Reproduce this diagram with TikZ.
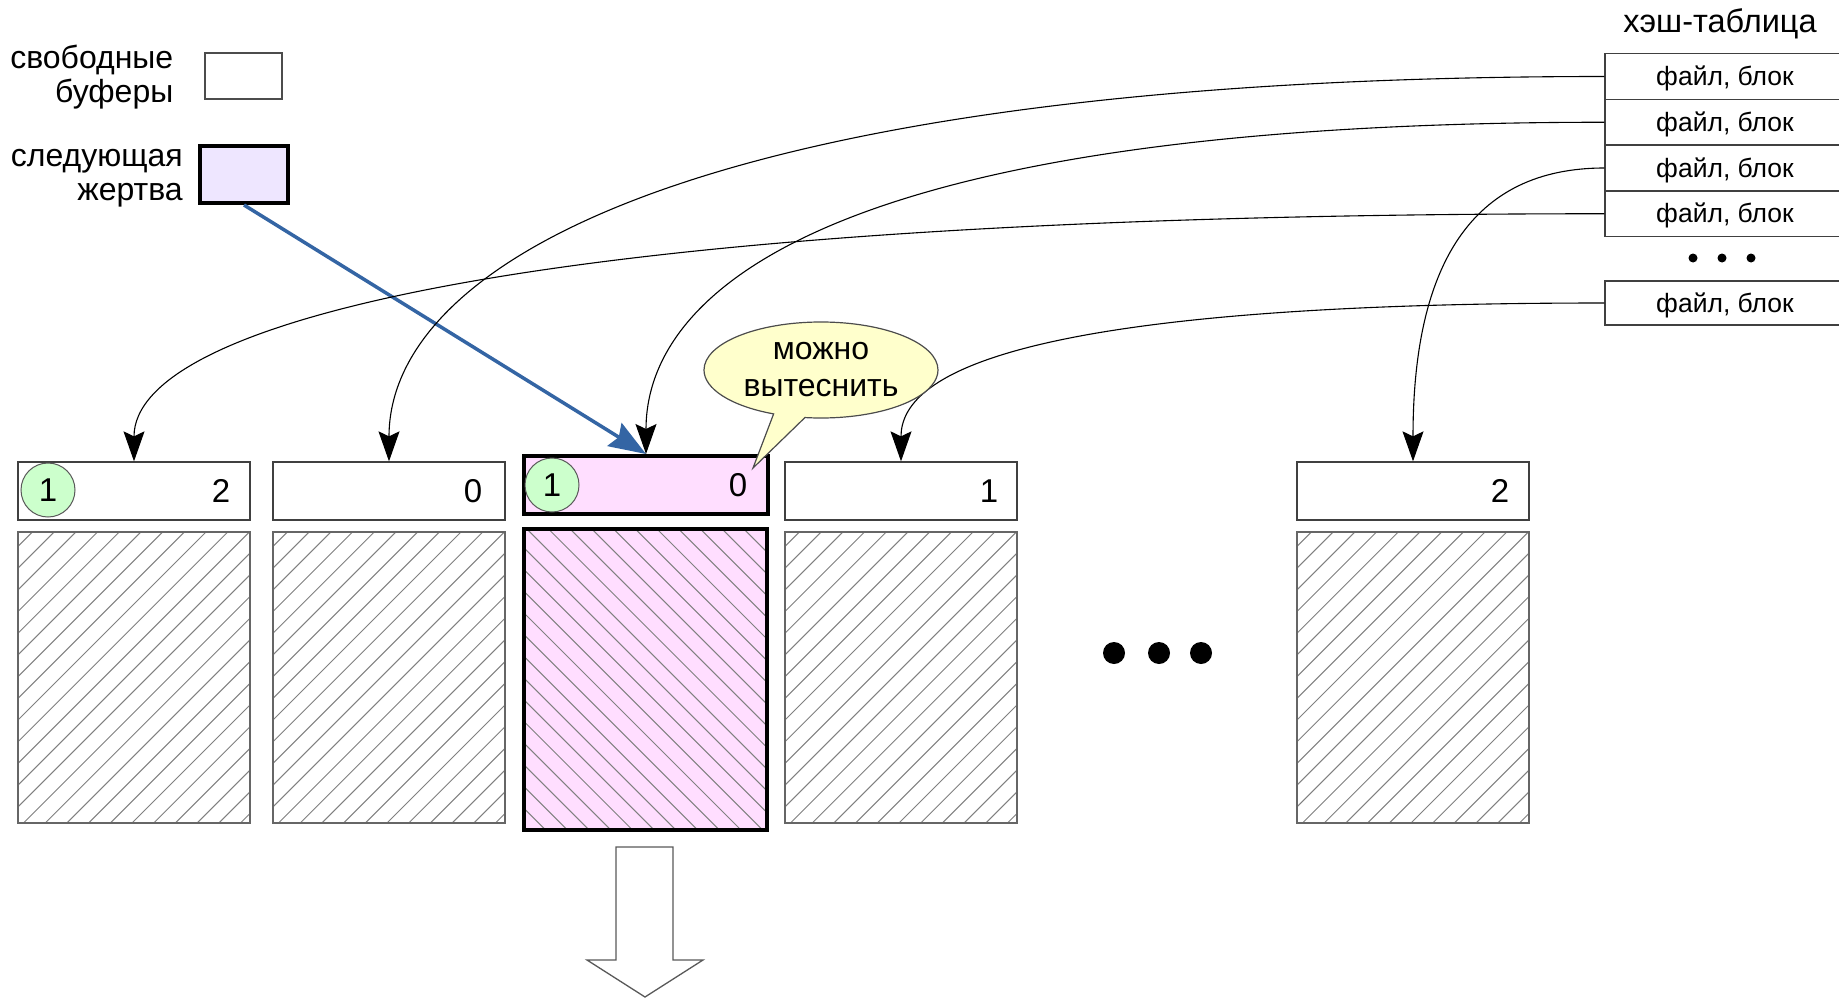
\documentclass[tikz,border=0pt]{standalone}
\usepackage{fontspec}
\setmainfont{Liberation Sans}
\usetikzlibrary{arrows.meta,shapes.callouts,shapes.geometric}
\definecolor{victim}{HTML}{FFDEFF}
\definecolor{lav}{HTML}{EEE6FF}
\definecolor{cntgreen}{HTML}{CCFFCC}
\definecolor{bub}{HTML}{FFFFCC}
\definecolor{arrblue}{HTML}{3465A4}
\begin{document}
\begin{tikzpicture}[x=1pt,y=-1pt,
  hdr/.style={rectangle, draw=black!75, line width=1.3pt, fill=white, minimum width=232pt, minimum height=58pt, inner sep=0pt},
  hdrv/.style={rectangle, draw=black, line width=4pt, fill=victim, minimum width=244pt, minimum height=58pt, inner sep=0pt},
  hatchne/.style={path picture={\foreach \k in {-320,-298.3,...,260}{\draw[line width=1pt, black!50] ([xshift=\k pt]path picture bounding box.south west) -- ++(340pt,340pt);}}},
  hatchnw/.style={path picture={\foreach \k in {0,21.7,...,600}{\draw[line width=1pt, black!50] ([xshift=\k pt]path picture bounding box.south west) -- ++(-340pt,340pt);}}},
  body/.style={rectangle, draw=black!60, line width=1.3pt, fill=white, minimum width=232pt, minimum height=291pt, inner sep=0pt, hatchne},
  bodyv/.style={rectangle, draw=black, line width=4pt, fill=victim, minimum width=243pt, minimum height=301pt, inner sep=0pt, hatchnw},
  num/.style={font=\fontsize{33}{33}\selectfont, inner sep=0pt},
  cnt/.style={circle, draw=black!65, line width=1pt, fill=cntgreen, minimum size=54pt, inner sep=0pt, font=\fontsize{33}{33}\selectfont},
  lbl/.style={font=\fontsize{32}{33}\selectfont, inner sep=0pt},
  cell/.style={rectangle, draw=black!75, line width=1.3pt, fill=white, minimum width=240pt, minimum height=45.75pt, inner sep=0pt, text height=23pt, text depth=5pt, font=\fontsize{26.5}{26.5}\selectfont},
  conn/.style={line width=1.1pt, -{Stealth[length=30pt,width=21pt,inset=5pt]}},
  bluearr/.style={draw=arrblue, line width=3.5pt, -{Stealth[length=37pt,width=27pt,inset=5pt]}},
  bigdot/.style={circle, fill=black, minimum size=22pt, inner sep=0pt},
  smalldot/.style={circle, fill=black, minimum size=9pt, inner sep=0pt}
]
\useasboundingbox (0,0) rectangle (1839,998);

% legend
\node[lbl, anchor=base east] (l1a) at (173.5,68.5) {свободные};
\node[lbl, anchor=base east] (l1b) at (173.5,102.5) {буферы};
\node[lbl, anchor=base east] (l2a) at (183,166.5) {следующая};
\node[lbl, anchor=base east] (l2b) at (183,200.5) {жертва};
\node[rectangle, draw=black!70, line width=1.3pt, minimum width=77pt, minimum height=46pt, inner sep=0pt] (lf) at (243.5,76) {};
\node[rectangle, draw=black, line width=4pt, fill=lav, minimum width=88pt, minimum height=57pt, inner sep=0pt] (lv) at (244,174.5) {};

% hash table
\node[font=\fontsize{32.5}{33}\selectfont, inner sep=0pt, anchor=base] (ht) at (1720,33) {хэш-таблица};
\node[cell] (h1) at (1725,76.5) {файл, блок};
\node[cell] (h2) at (1725,122.25) {файл, блок};
\node[cell] (h3) at (1725,168) {файл, блок};
\node[cell] (h4) at (1725,213.75) {файл, блок};
\node[smalldot] (hd1) at (1693,258) {};
\node[smalldot] (hd2) at (1722,258) {};
\node[smalldot] (hd3) at (1751,258) {};
\node[cell, minimum height=44pt] (h6) at (1725,303) {файл, блок};

% buffers
\node[body] (b1body) at (134,677.5) {};
\node[body] (b2body) at (389,677.5) {};
\node[bodyv] (b3body) at (645.5,679.5) {};
\node[body] (b4body) at (901,677.5) {};
\node[body] (b5body) at (1413,677.5) {};

\node[hdr] (b1) at (134,491) {};
\node[hdr] (b2) at (389,491) {};
\node[hdrv] (b3) at (646,485) {};
\node[hdr] (b4) at (901,491) {};
\node[hdr] (b5) at (1413,491) {};

\node[num] (n1) at (221,491) {2};
\node[num] (n2) at (473,491) {0};
\node[num] (n3) at (738,485) {0};
\node[num] (n4) at (989,491) {1};
\node[num] (n5) at (1500,491) {2};
\node[cnt] (c1) at (48,490) {1};
\node[cnt] (c3) at (552,485) {1};

% dots
\node[bigdot] (d1) at (1114,653) {};
\node[bigdot] (d2) at (1159,653) {};
\node[bigdot] (d3) at (1201,653) {};

% down arrow
\draw[draw=black!65, line width=1.3pt, fill=white, line join=miter]
  (616,847) -- (673,847) -- (673,960) -- (703,960) -- (645,997) -- (587,960) -- (616,960) -- cycle;

% blue arrow
\draw[bluearr] (lv.south) -- (b3.north);

% connectors
\draw[conn] (h1.west) .. controls +(-900,0) and +(0,-200) .. (b2.north);
\draw[conn] (h2.west) .. controls +(-870,0) and +(0,-120) .. (b3.north);
\draw[conn] (h3.west) .. controls +(-133,0) and +(0,-196) .. (b5.north);
\draw[conn] (h4.west) .. controls +(-1081,0) and +(0,-138) .. (b1.north);
\draw[conn] (h6.west) .. controls +(-597,0) and +(0,-85) .. (b4.north);

% bubble
\node[ellipse callout, draw=black!70, line width=1.2pt, fill=bub, minimum width=234pt, minimum height=96pt, inner sep=0pt,
  callout absolute pointer={(753,468)}, callout pointer arc=16, align=center,
  font=\fontsize{32}{37}\selectfont] (bub) at (821,370) {можно\\вытеснить};
\end{tikzpicture}
\end{document}
